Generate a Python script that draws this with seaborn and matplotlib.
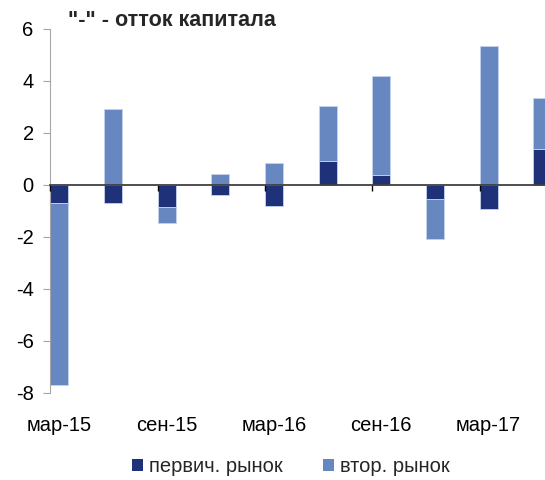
import numpy as np
import pandas as pd
import matplotlib
matplotlib.use("Agg")
import matplotlib.pyplot as plt
import seaborn as sns
from matplotlib.patches import Patch

# quarterly data, mar-15 .. jun-17
quarters = ["мар-15", "июн-15", "сен-15", "дек-15", "мар-16",
            "июн-16", "сен-16", "дек-16", "мар-17", "июн-17"]
primary = [-0.70, -0.70, -0.84, -0.38, -0.81, 0.90, 0.38, -0.53, -0.92, 1.39]
secondary = [-7.00, 2.90, -0.65, 0.41, 0.85, 2.12, 3.80, -1.55, 5.35, 1.94]
tick_labels = ["мар-15", "сен-15", "мар-16", "сен-16", "мар-17"]

dark = "#1F3279"
light = "#6687BF"

df = pd.DataFrame({"q": quarters, "primary": primary, "secondary": secondary})
# Excel-style stacking: same sign stacks on primary, opposite sign starts at 0
df["base"] = np.where(np.sign(df["primary"]) == np.sign(df["secondary"]), df["primary"], 0.0)

sns.set_style("white")
plt.rcParams["font.family"] = ["Liberation Sans", "DejaVu Sans"]
plt.rcParams["axes.unicode_minus"] = False

fig = plt.figure(figsize=(5.45, 4.8), dpi=100)
ax = fig.add_axes([0.0925, 0.182, 1 - 0.0925, 0.758])

w = 0.335
sns.barplot(data=df, x="q", y="primary", color=dark, width=w, errorbar=None,
            saturation=1, edgecolor="#C5D3EA", linewidth=0.6, ax=ax, zorder=2)
sns.barplot(data=df, x="q", y="secondary", color=light, width=w, errorbar=None,
            saturation=1, bottom=df["base"].values, edgecolor="#C5D3EA",
            linewidth=0.6, ax=ax, zorder=2)

ax.set_ylim(-8, 6)
ax.set_yticks(range(-8, 7, 2))
ax.set_xlim(-w / 2, 9.05)

# labels at the bottom, under every second quarter
pos = list(range(0, len(quarters), 2))
ax.set_xticks(pos, tick_labels)
ax.tick_params(axis="x", length=0, pad=17, labelsize=14.5, colors="black")
ax.tick_params(axis="y", length=5, width=0.8, color="#A6A6A6", direction="out",
               left=True, pad=7, labelsize=14.5, labelcolor="black")
ax.set_xlabel("")
ax.set_ylabel("")

for s in ["top", "right", "bottom"]:
    ax.spines[s].set_visible(False)
ax.spines["left"].set_color("#A6A6A6")
ax.spines["left"].set_linewidth(0.8)

# category axis crossing at zero, ticks at the group edges
zero_frac = (0 - (-8)) / 14
sec = ax.secondary_xaxis(zero_frac)
sec.set_alignment("bottom")
sec.set_zorder(5)
sec.set_xticks([p - w / 2 for p in pos], labels=[""] * len(pos))
sec.tick_params(axis="x", length=4, width=1, color="black", direction="out")
sec.spines["bottom"].set_color("#404040")
sec.spines["bottom"].set_linewidth(1.3)

fig.text(68 / 545, 1 - 21 / 480, '"-" - отток капитала', fontsize=15.5,
         fontweight="bold", va="center", ha="left")

handles = [Patch(facecolor=dark, edgecolor="none"), Patch(facecolor=light, edgecolor="none")]
fig.legend(handles, ["первич. рынок", "втор. рынок"], loc="center",
           bbox_to_anchor=(291 / 545, 1 - 467 / 480), ncol=2, frameon=False,
           fontsize=14.5, handlelength=0.55, handleheight=0.55, handletextpad=0.3,
           columnspacing=2.0)

fig.savefig("out.png", dpi=100)
